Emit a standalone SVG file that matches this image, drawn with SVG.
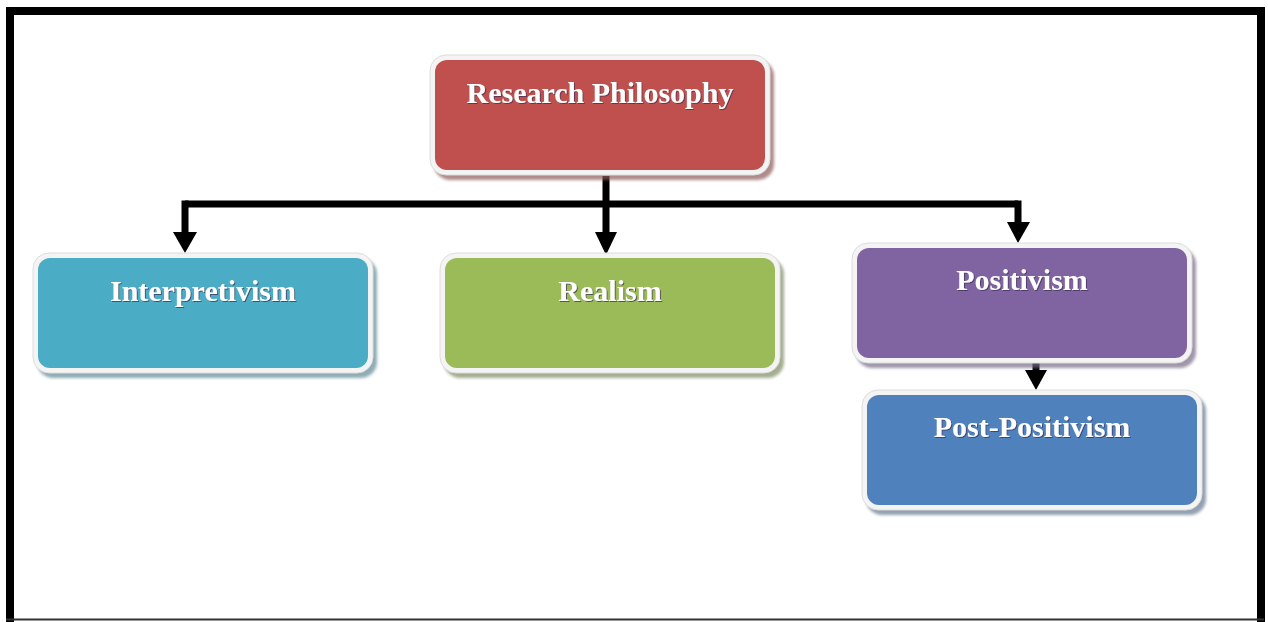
<svg xmlns="http://www.w3.org/2000/svg" width="1268" height="622" viewBox="0 0 1268 622">
<style>
.frame{fill:#000}
.shadow{opacity:0.7}
.rim{fill:#f4f4f4;stroke:#dcdcdc;stroke-width:1}
.lbl{font-family:"Liberation Serif","Times New Roman",serif;font-weight:bold;font-size:30px;fill:#ffffff;text-anchor:middle}
.wire{stroke:#000;stroke-width:7;fill:none;stroke-linecap:butt;stroke-linejoin:miter}
.head{fill:#000}
</style>
<defs>
<filter id="blur" x="-10%" y="-10%" width="120%" height="130%"><feGaussianBlur stdDeviation="1.5"/></filter>
<filter id="ts" x="-10%" y="-30%" width="120%" height="160%"><feDropShadow dx="1" dy="1" stdDeviation="0.6" flood-color="#3a2a55" flood-opacity="0.7"/></filter>
</defs>
<rect width="1268" height="622" fill="#ffffff"/>
<g id="frame">
<rect class="frame" x="6" y="7" width="1258" height="8"/>
<rect class="frame" x="6" y="7" width="8" height="615"/>
<rect class="frame" x="1257" y="7" width="8" height="615"/>
<rect x="6" y="618.5" width="1258" height="2" fill="#333"/>
</g>
<g id="connectors">
<path class="wire" d="M606 176 V204"/>
<path class="wire" d="M185 204 H1018"/>
<path class="wire" d="M185 200.5 V233"/>
<path class="wire" d="M606 204 V233"/>
<path class="wire" d="M1018 200.5 V223"/>
<path class="wire" d="M1036 362 V371"/>
<polygon class="head" points="173,232 197,232 185,253"/>
<polygon class="head" points="595,232 617,232 606,255"/>
<polygon class="head" points="1007,222 1030,222 1018,243"/>
<polygon class="head" points="1025,370 1047,370 1036,390"/>
</g>
<g id="n-research">
<rect class="shadow" x="434" y="60" width="340" height="120" rx="16" fill="#8c5a58" filter="url(#blur)"/>
<rect class="rim" x="430" y="55" width="340" height="120" rx="16"/>
<rect x="435" y="60" width="330" height="110" rx="12" fill="#C0504D"/>
<text class="lbl" x="600" y="103" filter="url(#ts)">Research Philosophy</text>
</g>
<g id="n-interpretivism">
<rect class="shadow" x="37" y="258" width="340" height="120" rx="16" fill="#5e8a96" filter="url(#blur)"/>
<rect class="rim" x="33" y="253" width="340" height="120" rx="16"/>
<rect x="38" y="258" width="330" height="110" rx="12" fill="#4BACC6"/>
<text class="lbl" x="203" y="301" filter="url(#ts)">Interpretivism</text>
</g>
<g id="n-realism">
<rect class="shadow" x="444" y="258" width="340" height="120" rx="16" fill="#7d8c62" filter="url(#blur)"/>
<rect class="rim" x="440" y="253" width="340" height="120" rx="16"/>
<rect x="445" y="258" width="330" height="110" rx="12" fill="#9BBB59"/>
<text class="lbl" x="610" y="301" filter="url(#ts)">Realism</text>
</g>
<g id="n-positivism">
<rect class="shadow" x="856" y="248" width="340" height="120" rx="16" fill="#776a86" filter="url(#blur)"/>
<rect class="rim" x="852" y="243" width="340" height="120" rx="16"/>
<rect x="857" y="248" width="330" height="110" rx="12" fill="#8064A2"/>
<text class="lbl" x="1022" y="290" filter="url(#ts)">Positivism</text>
</g>
<g id="n-postpositivism">
<rect class="shadow" x="866" y="395" width="340" height="120" rx="16" fill="#65788f" filter="url(#blur)"/>
<rect class="rim" x="862" y="390" width="340" height="120" rx="16"/>
<rect x="867" y="395" width="330" height="110" rx="12" fill="#4F81BD"/>
<text class="lbl" x="1032" y="437" filter="url(#ts)">Post-Positivism</text>
</g>
</svg>
